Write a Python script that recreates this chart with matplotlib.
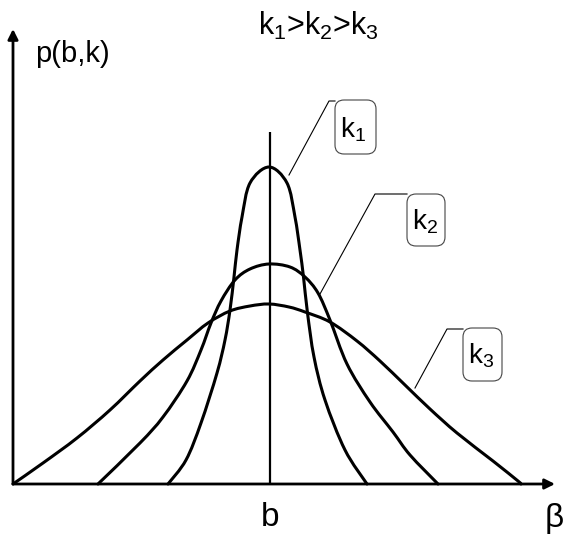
import numpy as np
import matplotlib
matplotlib.use("Agg")
import matplotlib.pyplot as plt
from matplotlib.path import Path
from matplotlib.patches import PathPatch, FancyBboxPatch

plt.rcParams['font.family'] = ['Liberation Sans', 'DejaVu Sans']
plt.rcParams['mathtext.fontset'] = 'custom'
plt.rcParams['mathtext.rm'] = 'Liberation Sans'
plt.rcParams['mathtext.it'] = 'Liberation Sans'

# Density curves p(beta) for three values of k (k1 > k2 > k3)
k1_beta = [155, 173, 188, 204, 212, 217, 221, 224, 229, 237, 256, 274, 282, 287, 290.5, 294.5, 301, 312, 332, 354]
k1_p    = [0, 24, 61, 111, 144, 174, 207, 234, 267, 301, 317, 301, 267, 234, 207, 171, 127, 84, 34, 0]

k2_beta = [85, 127, 150, 174, 188, 198, 208, 222, 237, 256, 277, 292, 305, 317, 334, 357, 380, 397, 425]
k2_p    = [0, 41, 67, 103, 134, 161, 183, 204, 215, 220, 217, 207, 191, 164, 120, 82, 52, 29, 0]

k3_beta = [0, 30, 64, 97, 127, 150, 174, 195, 217, 237, 256, 276, 292, 317, 344, 367, 392, 417, 444, 480, 505, 508]
k3_p    = [0, 21, 46, 74, 103, 124, 144, 161, 173, 178, 180, 177, 172, 162, 143, 123, 99, 75, 51, 23, 3, 0]

b_pos = 257          # location of b on the beta axis
b_line_top = 352

curve_labels = ["k$_1$", "k$_2$", "k$_3$"]


def smooth_path(xs, ys):
    """Catmull-Rom curve through the points, as cubic Bezier segments."""
    pts = np.column_stack([xs, ys]).astype(float)
    verts = [pts[0]]
    codes = [Path.MOVETO]
    n = len(pts)
    for i in range(n - 1):
        p0 = pts[i - 1] if i > 0 else pts[i]
        p1 = pts[i]
        p2 = pts[i + 1]
        p3 = pts[i + 2] if i + 2 < n else pts[i + 1]
        c1 = p1 + (p2 - p0) / 6.0
        c2 = p2 - (p3 - p1) / 6.0
        verts += [c1, c2, p2]
        codes += [Path.CURVE4] * 3
    return Path(verts, codes)


fig = plt.figure(figsize=(5.64, 5.36), dpi=100)
ax = fig.add_axes([0, 0, 1, 1])
ax.set_xlim(-13, 551)
ax.set_ylim(-52, 484)
ax.axis('off')

# axes with arrow heads
ax.annotate("", xy=(0, 455), xytext=(0, 0),
            arrowprops=dict(arrowstyle="-|>", lw=2.0, color="black",
                            mutation_scale=15, shrinkA=0, shrinkB=0))
ax.annotate("", xy=(542, 0), xytext=(0, 0),
            arrowprops=dict(arrowstyle="-|>", lw=2.0, color="black",
                            mutation_scale=15, shrinkA=0, shrinkB=0))

# vertical line at b
ax.plot([b_pos, b_pos], [0, b_line_top], color="black", lw=1.6, solid_capstyle="butt")

for xs, ys in [(k1_beta, k1_p), (k2_beta, k2_p), (k3_beta, k3_p)]:
    ax.add_patch(PathPatch(smooth_path(xs, ys), facecolor="none",
                           edgecolor="black", lw=2.2, capstyle="round",
                           joinstyle="round"))

# leader lines and boxed curve labels
leaders = [
    [(276, 309), (316, 383), (322, 383)],
    [(307, 190), (362, 290), (394, 290)],
    [(402, 96), (434, 155), (450, 155)],
]
boxes = [(322, 330, 41, 54), (394, 238, 38, 52), (450, 103, 39, 53)]
text_pos = [(327, 347), (399, 254), (455, 120)]

for lead, box, tp, lab in zip(leaders, boxes, text_pos, curve_labels):
    lx, ly = zip(*lead)
    ax.plot(lx, ly, color="black", lw=0.8)
    bx, by, bw, bh = box
    ax.add_patch(FancyBboxPatch((bx, by), bw, bh,
                                boxstyle="round,pad=0,rounding_size=9",
                                facecolor="white", edgecolor="#444444", lw=0.8))
    ax.text(tp[0], tp[1], lab, fontsize=20, ha="left", va="baseline")

ax.text(22, 422, "p(b,k)", fontsize=21, ha="left", va="baseline")
ax.text(245, 449, "k$_1$>k$_2$>k$_3$", fontsize=22, ha="left", va="baseline")
ax.text(b_pos, -42, "b", fontsize=24, ha="center", va="baseline")
ax.text(532, -43, "β", fontsize=24, ha="left", va="baseline")

fig.savefig("out.png", dpi=100)
